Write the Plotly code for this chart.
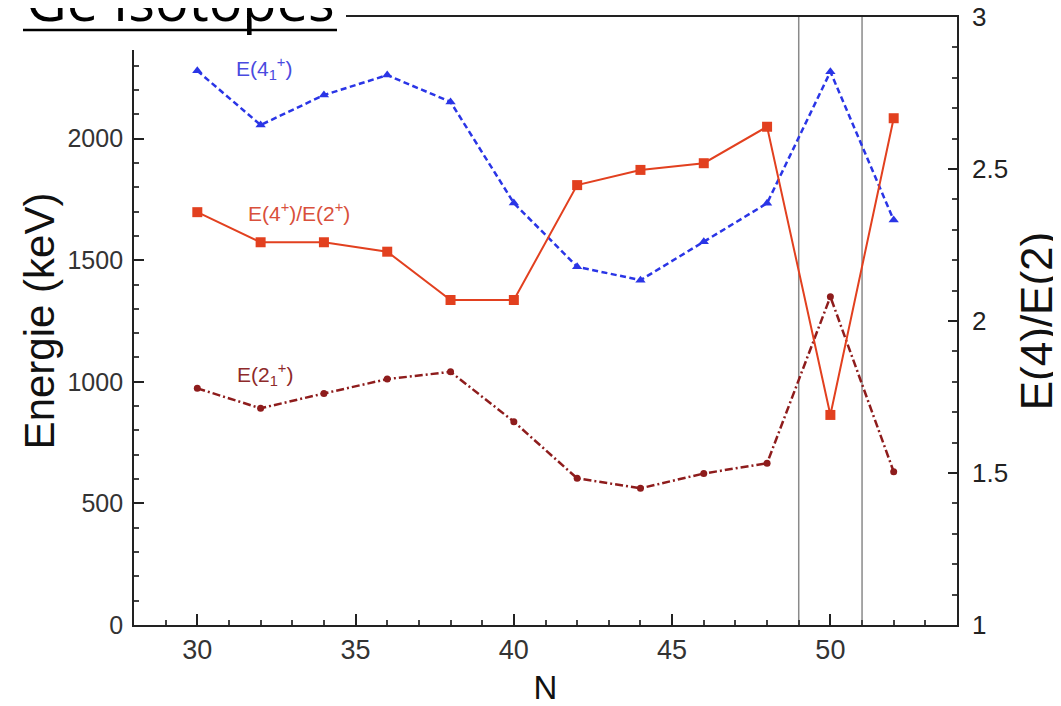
import plotly.graph_objects as go

# ---- data ----
N = [30, 32, 34, 36, 38, 40, 42, 44, 46, 48, 50, 52]
E4_1 = [2279, 2056, 2179, 2261, 2151, 1735, 1473, 1418, 1576, 1734, 2275, 1665]
E2_1 = [973, 891, 952, 1011, 1041, 836, 603, 562, 623, 665, 1350, 630]
ratio = [2.358, 2.259, 2.259, 2.228, 2.069, 2.069, 2.447, 2.497, 2.519, 2.639, 1.691, 2.667]
shell_lines = [49, 51]

# ---- layout geometry (page pixels) ----
OFF = 8                      # default body margin of the html page
W, H = 1061 - OFF, 706 - OFF  # figure size
L, R, T, B = 134, 957, 17, 625  # plot area in page pixels
PW, PH = R - L, B - T


def px_x(px):
    return (px - L) / PW


def px_y(py):
    return (B - py) / PH


fig = go.Figure()

fig.add_trace(go.Scatter(
    x=N, y=E4_1, mode="lines+markers", name="E(4_1+)",
    line=dict(color="#2a35e6", width=2.5, dash="6px,3.5px"),
    marker=dict(symbol="triangle-up", size=9, color="#2a35e6"),
    showlegend=False,
))
fig.add_trace(go.Scatter(
    x=N, y=E2_1, mode="lines+markers", name="E(2_1+)",
    line=dict(color="#8e1c1c", width=2.5, dash="8px,3px,2px,3px"),
    marker=dict(symbol="circle", size=7, color="#8e1c1c"),
    showlegend=False,
))
fig.add_trace(go.Scatter(
    x=N, y=ratio, mode="lines+markers", name="E(4+)/E(2+)", yaxis="y2",
    line=dict(color="#e2401f", width=2),
    marker=dict(symbol="square", size=10, color="#e2401f"),
    showlegend=False,
))

shapes = []
for xv in shell_lines:
    shapes.append(dict(type="line", xref="x", yref="paper", x0=xv, x1=xv,
                       y0=0, y1=1, line=dict(color="#8a8a8a", width=1.5),
                       layer="below"))
# white box behind the title
shapes.append(dict(type="rect", xref="paper", yref="paper",
                   x0=px_x(0), x1=px_x(346), y0=px_y(50), y1=px_y(-5),
                   fillcolor="white", line=dict(width=0), layer="above"))
# title underline
shapes.append(dict(type="line", xref="paper", yref="paper",
                   x0=px_x(23), x1=px_x(337), y0=px_y(30), y1=px_y(30),
                   line=dict(color="black", width=2.5), layer="above"))

annotations = [
    dict(text="Ge Isotopes", xref="paper", yref="paper", x=px_x(180), y=px_y(-1),
         xanchor="center", yanchor="middle", showarrow=False,
         font=dict(family="Open Sans", size=56, color="black")),
    dict(text="E(4<sub>1</sub><sup>+</sup>)", xref="x", yref="y", x=32.1, y=2290,
         showarrow=False, font=dict(family="Liberation Sans", size=21, color="#4a4ae0")),
    dict(text="E(4<sup>+</sup>)/E(2<sup>+</sup>)", xref="x", yref="y", x=33.2, y=1698,
         showarrow=False, font=dict(family="Liberation Sans", size=21, color="#d9503c")),
    dict(text="E(2<sub>1</sub><sup>+</sup>)", xref="x", yref="y", x=32.15, y=1030,
         showarrow=False, font=dict(family="Liberation Sans", size=21, color="#8e2a2a")),
]

fig.update_layout(
    width=W, height=H,
    margin=dict(l=L - OFF, r=W - (R - OFF), t=T - OFF, b=H - (B - OFF)),
    paper_bgcolor="white", plot_bgcolor="white",
    shapes=shapes, annotations=annotations,
    xaxis=dict(range=[28, 54], tickvals=[30, 35, 40, 45, 50], automargin=False,
               title=dict(text="N", standoff=14,
                          font=dict(family="Liberation Sans", size=33, color="#111111")),
               ticks="inside", ticklen=11, tickwidth=1.5, tickcolor="#222",
               minor=dict(dtick=1, ticks="inside", ticklen=5, tickcolor="#444"),
               showline=True, linecolor="#222", linewidth=1.8, mirror=True,
               showgrid=False, zeroline=False,
               tickfont=dict(family="Liberation Sans", size=27, color="#333")),
    yaxis=dict(range=[0, 2500], tickvals=[0, 500, 1000, 1500, 2000], automargin=False,
               title=dict(text="Energie (keV)", standoff=0,
                          font=dict(family="Liberation Sans", size=42, color="#111111")),
               ticks="inside", ticklen=10, tickwidth=1.5, tickcolor="#222",
               minor=dict(dtick=100, ticks="inside", ticklen=5, tickcolor="#444"),
               showline=True, linecolor="#222", linewidth=1.8,
               showgrid=False, zeroline=False, ticklabelstandoff=4,
               tickfont=dict(family="Liberation Sans", size=25, color="#333")),
    yaxis2=dict(range=[1, 3], tickvals=[1, 1.5, 2, 2.5, 3], overlaying="y", side="right",
                automargin=False, ticklabeloverflow="allow", ticklabelstandoff=8,
                title=dict(text="E(4)/E(2)", standoff=15,
                           font=dict(family="Liberation Sans", size=44, color="#111111")),
                ticks="inside", ticklen=9, tickwidth=1.5, tickcolor="#222",
                minor=dict(dtick=0.1, ticks="inside", ticklen=5, tickcolor="#444"),
                showline=True, linecolor="#222", linewidth=1.8,
                showgrid=False, zeroline=False,
                tickfont=dict(family="Liberation Sans", size=26, color="#222")),
)

fig.write_html("out.html")
